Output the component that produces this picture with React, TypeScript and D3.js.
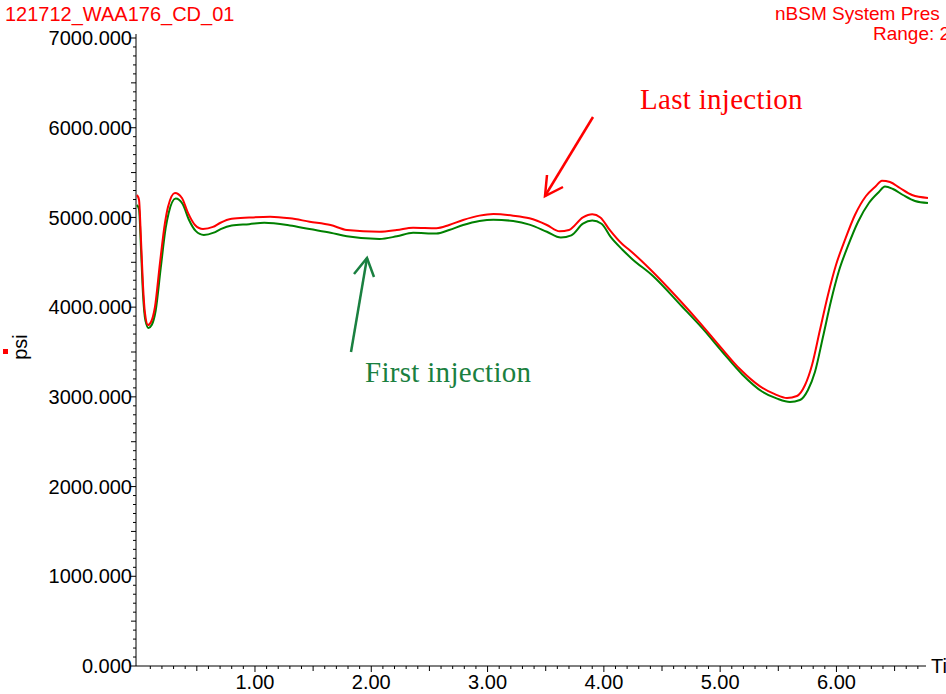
import React from 'react';
import * as d3 from 'd3';

const W = 946;
const H = 694;

// Last injection (red) — time (min), pressure (psi)
const redT = [-0.015, 0.003, 0.02, 0.037, 0.054, 0.08, 0.106, 0.14, 0.183, 0.226, 0.252, 0.312, 0.372, 0.424, 0.484, 0.553, 0.639, 0.699, 0.80, 0.95, 1.13, 1.30, 1.47, 1.65, 1.79, 2.07, 2.22, 2.36, 2.56, 2.67, 2.79, 2.93, 3.05, 3.22, 3.36, 3.51, 3.62, 3.70, 3.82, 3.90, 3.97, 4.05, 4.16, 4.22, 4.40, 4.65, 4.83, 5.00, 5.17, 5.34, 5.47, 5.575, 5.66, 5.73, 5.79, 5.858, 5.927, 5.996, 6.073, 6.159, 6.254, 6.34, 6.391, 6.46, 6.546, 6.65, 6.787];
const redP = [5250, 5195, 4749, 4247, 3935, 3801, 3835, 4002, 4492, 4938, 5116, 5273, 5217, 5050, 4916, 4871, 4894, 4938, 4985, 4998, 5008, 4990, 4953, 4916, 4860, 4841, 4860, 4886, 4880, 4916, 4972, 5020, 5038, 5020, 4990, 4916, 4845, 4860, 5000, 5035, 5000, 4860, 4700, 4637, 4420, 4080, 3820, 3560, 3310, 3120, 3030, 2987, 3010, 3132, 3355, 3745, 4136, 4470, 4749, 5027, 5239, 5351, 5410, 5395, 5328, 5250, 5217];

// First injection (green)
const greenT = [-0.015, 0.003, 0.02, 0.037, 0.058, 0.085, 0.112, 0.146, 0.19, 0.232, 0.258, 0.318, 0.378, 0.43, 0.49, 0.56, 0.645, 0.705, 0.80, 0.95, 1.08, 1.30, 1.47, 1.65, 1.79, 2.07, 2.22, 2.36, 2.56, 2.67, 2.79, 2.93, 3.05, 3.22, 3.36, 3.51, 3.63, 3.72, 3.82, 3.90, 3.98, 4.06, 4.16, 4.24, 4.42, 4.67, 4.85, 5.02, 5.19, 5.36, 5.49, 5.60, 5.686, 5.755, 5.815, 5.884, 5.953, 6.021, 6.099, 6.185, 6.279, 6.365, 6.417, 6.486, 6.572, 6.675, 6.787];
const greenP = [5139, 5090, 4650, 4150, 3850, 3768, 3800, 3960, 4440, 4880, 5050, 5210, 5150, 4980, 4850, 4805, 4830, 4870, 4910, 4925, 4940, 4910, 4870, 4830, 4790, 4760, 4790, 4830, 4820, 4860, 4915, 4960, 4975, 4960, 4920, 4840, 4775, 4800, 4930, 4965, 4930, 4780, 4640, 4540, 4350, 4010, 3760, 3500, 3250, 3060, 2980, 2943, 2965, 3077, 3277, 3667, 4069, 4403, 4682, 4949, 5161, 5284, 5345, 5317, 5250, 5183, 5161];

const yTicks = [0, 1000, 2000, 3000, 4000, 5000, 6000, 7000];
const xTicks = [1, 2, 3, 4, 5, 6];

const SANS = '"Liberation Sans", Arial, sans-serif';
const SERIF = '"Liberation Serif", "Times New Roman", serif';

export default function App() {
  const x = d3.scaleLinear().domain([-0.023, 6.77]).range([136, 926]);
  const y = d3.scaleLinear().domain([0, 7000]).range([666, 38]);

  const line = d3
    .line<[number, number]>()
    .x((d) => x(d[0]))
    .y((d) => y(d[1]))
    .curve(d3.curveMonotoneX);

  const red = redT.map((t, i) => [t, redP[i]] as [number, number]);
  const green = greenT.map((t, i) => [t, greenP[i]] as [number, number]);

  const yMinor = d3.range(0, 7001, 100);
  const xMinor = d3.range(1, 68).map((i) => i / 10);

  return (
    <svg width={W} height={H} style={{ display: 'block', position: 'absolute', left: 0, top: 0, background: '#fff' }}>
      <rect x={0} y={0} width={W} height={H} fill="#fff" />
      {/* titles */}
      <text x={5} y={21} fontFamily={SANS} fontSize={20} fill="#ff0000">121712_WAA176_CD_01</text>
      <text x={775} y={20} fontFamily={SANS} fontSize={19} fill="#ff0000">nBSM System Pres</text>
      <text x={873} y={40} fontFamily={SANS} fontSize={19} fill="#ff0000">Range: 2</text>

      {/* y axis */}
      <line x1={136} x2={136} y1={34} y2={666} stroke="#000" strokeWidth={1} />
      {yMinor.map((v) => {
        const len = v % 1000 === 0 ? 6 : v % 500 === 0 ? 5 : 3;
        return <line key={'ym' + v} x1={136 - len} x2={136} y1={y(v)} y2={y(v)} stroke="#000" strokeWidth={1} />;
      })}
      {yTicks.map((v) => (
        <text key={'yl' + v} x={132} y={y(v)} dy="0.36em" textAnchor="end" fontFamily={SANS} fontSize={20} fill="#000">
          {v.toFixed(3)}
        </text>
      ))}
      <rect x={3} y={349} width={5} height={5} fill="#ff0000" />
      <text transform="translate(27,347) rotate(-90)" textAnchor="middle" fontFamily={SANS} fontSize={20} fill="#000">psi</text>

      {/* x axis */}
      <line x1={136} x2={926} y1={666} y2={666} stroke="#000" strokeWidth={1} />
      {xMinor.map((v) => {
        const r = Math.round(v * 10);
        const len = r % 10 === 0 ? 6 : r % 5 === 0 ? 5 : 3;
        return <line key={'xm' + r} x1={x(v)} x2={x(v)} y1={666} y2={666 + len} stroke="#000" strokeWidth={1} />;
      })}
      {xTicks.map((v) => (
        <text key={'xl' + v} x={x(v)} y={689} textAnchor="middle" fontFamily={SANS} fontSize={20} fill="#000">
          {v.toFixed(2)}
        </text>
      ))}
      <text x={931} y={673} fontFamily={SANS} fontSize={20} fill="#000">Ti</text>

      {/* curves */}
      <path d={line(green) || ''} fill="none" stroke="#008000" strokeWidth={2} />
      <path d={line(red) || ''} fill="none" stroke="#ff0000" strokeWidth={2} />

      {/* annotations */}
      <text x={640} y={109} fontFamily={SERIF} fontSize={29} letterSpacing={0.3} fill="#ff0000">Last injection</text>
      <line x1={593} y1={117} x2={545} y2={196} stroke="#ff0000" strokeWidth={2.5} />
      <polyline points="547,175 545,196 563,187" fill="none" stroke="#ff0000" strokeWidth={2.5} />

      <text x={365} y={382} fontFamily={SERIF} fontSize={29} letterSpacing={0.3} fill="#1a8040">First injection</text>
      <line x1={351} y1={352} x2={367} y2={258} stroke="#1a8040" strokeWidth={2.5} />
      <polyline points="354,274 367,258 374,277" fill="none" stroke="#1a8040" strokeWidth={2.5} />
    </svg>
  );
}
